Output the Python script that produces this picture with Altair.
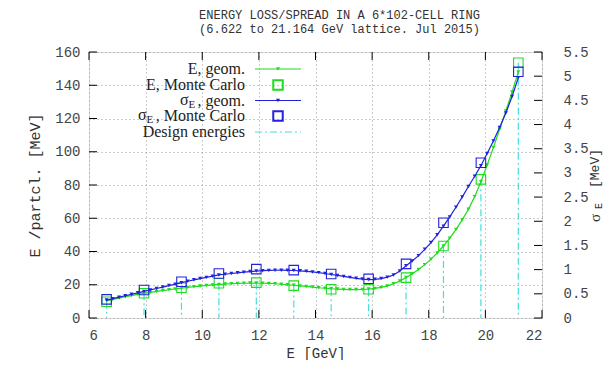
import altair as alt
import pandas as pd

# ---------------- data ----------------
design_E = [6.622, 7.944, 9.266, 10.588, 11.910, 13.232, 14.554, 15.876,
            17.198, 18.520, 19.842, 21.164]
mc_E = [9.8, 14.9, 18.2, 20.9, 21.3, 19.5, 17.3, 17.3, 24.3, 43.3, 83.4, 153.5]
mc_sigma = [0.385, 0.58, 0.75, 0.92, 1.01, 0.99, 0.91, 0.81, 1.12, 1.97, 3.21, 5.09]

geom_x = [6.622, 6.842, 7.063, 7.283, 7.503, 7.724, 7.944, 8.164, 8.385, 8.605,
          8.825, 9.046, 9.266, 9.486, 9.707, 9.927, 10.147, 10.368, 10.588, 10.808,
          11.029, 11.249, 11.469, 11.690, 11.910, 12.130, 12.351, 12.571, 12.791, 13.012,
          13.232, 13.452, 13.673, 13.893, 14.113, 14.334, 14.554, 14.774, 14.995, 15.215,
          15.435, 15.656, 15.876, 16.096, 16.317, 16.537, 16.757, 16.978, 17.198, 17.418,
          17.639, 17.859, 18.079, 18.300, 18.520, 18.740, 18.961, 19.181, 19.401, 19.622,
          19.842, 20.062, 20.283, 20.503, 20.723, 20.944, 21.164]
geom_E = [10.3, 11.2, 12.0, 12.8, 13.5, 14.2, 14.8, 15.4, 16.0, 16.5,
          17.0, 17.5, 18.0, 18.4, 18.8, 19.2, 19.6, 19.9, 20.2, 20.4,
          20.6, 20.8, 20.9, 21.0, 21.0, 20.9, 20.8, 20.6, 20.3, 20.0,
          19.7, 19.3, 19.0, 18.6, 18.2, 17.9, 17.6, 17.4, 17.2, 17.1,
          17.1, 17.2, 17.4, 17.8, 18.4, 19.3, 20.6, 22.2, 24.3, 26.6,
          29.2, 32.1, 35.4, 39.1, 43.3, 48.0, 53.2, 59.0, 65.4, 73.0,
          82.0, 92.0, 102.5, 113.5, 124.5, 136.0, 148.0]
geom_sigma = [0.37, 0.40, 0.43, 0.46, 0.49, 0.52, 0.55, 0.58, 0.61, 0.64,
              0.67, 0.70, 0.73, 0.76, 0.79, 0.815, 0.84, 0.865, 0.89, 0.905,
              0.92, 0.935, 0.948, 0.96, 0.97, 0.978, 0.984, 0.987, 0.988, 0.986,
              0.982, 0.975, 0.965, 0.953, 0.938, 0.92, 0.90, 0.88, 0.86, 0.84,
              0.82, 0.805, 0.795, 0.80, 0.815, 0.845, 0.89, 0.97, 1.08, 1.18,
              1.29, 1.42, 1.56, 1.72, 1.90, 2.09, 2.29, 2.50, 2.72, 2.93,
              3.15, 3.40, 3.66, 3.94, 4.24, 4.58, 4.97]

x_ticks = [6, 8, 10, 12, 14, 16, 18, 20, 22]
y_ticks = [0, 20, 40, 60, 80, 100, 120, 140, 160]
y2_ticks = [0, 0.5, 1, 1.5, 2, 2.5, 3, 3.5, 4, 4.5, 5, 5.5]

title_lines = ["ENERGY LOSS/SPREAD IN A 6*102-CELL RING",
               "(6.622 to 21.164 GeV lattice. Jul 2015)"]

# ---------------- styling ----------------
W, H = 453, 266
MONO = "Liberation Mono"
SERIF = "Liberation Serif"
GREEN = "#1edc1e"
BLUE = "#2222dd"
CYAN = "#44dede"
TICK = 8

geom_df = pd.DataFrame({"x": geom_x, "E": geom_E, "s": geom_sigma})
mc_df = pd.DataFrame({"x": design_E, "E": mc_E, "s": mc_sigma})
xt_df = pd.DataFrame({"x": x_ticks})
yt_df = pd.DataFrame({"E": y_ticks})
y2t_df = pd.DataFrame({"s": y2_ticks})
one = pd.DataFrame({"a": [0]})

xscale = alt.Scale(domain=[6, 22], nice=False, zero=False)
yscale = alt.Scale(domain=[0, 160], nice=False)
y2scale = alt.Scale(domain=[0, 5.5], nice=False)

xaxis = alt.Axis(values=x_ticks, grid=True, gridDash=[1, 3], gridColor="#999",
                 ticks=False, tickSize=0, domain=False, labelFont=MONO, labelFontSize=14,
                 labelColor="#444", labelPadding=10, title="E  [GeV]", titleFont=MONO,
                 titleFontSize=14, titleFontWeight="normal", titleColor="#333",
                 titlePadding=4)
yaxis = alt.Axis(values=y_ticks, grid=True, gridDash=[1, 3], gridColor="#999",
                 ticks=False, tickSize=0, domain=False, labelFont=MONO, labelFontSize=14,
                 labelColor="#444", labelPadding=9, title="E /partcl. [MeV]",
                 titleFont=MONO, titleFontSize=15, titleFontWeight="normal",
                 titleColor="#333", titlePadding=12)
y2axis = alt.Axis(values=y2_ticks, orient="right", grid=False, ticks=False, tickSize=0,
                  domain=False, labelFont=MONO, labelFontSize=14, labelColor="#444",
                  labelPadding=21, format=".1~f", title=None)

X = alt.X("x:Q", scale=xscale, axis=xaxis)
Y = alt.Y("E:Q", scale=yscale, axis=yaxis)
Y2 = alt.Y("s:Q", scale=y2scale, axis=y2axis)

# design energies impulses
design = alt.Chart(mc_df).mark_rule(color=CYAN, strokeWidth=1.2,
                                    strokeDash=[7, 3, 2, 3]).encode(
    x=X, y=Y, y2=alt.value(H))

e_line = alt.Chart(geom_df).mark_line(color=GREEN, strokeWidth=1.2).encode(x=X, y=Y)
e_pts = alt.Chart(geom_df).mark_point(shape="triangle-down", filled=True, size=16,
                                      color=GREEN, opacity=1).encode(x=X, y=Y)
e_mc = alt.Chart(mc_df).mark_point(shape="square", filled=False, size=90,
                                   color=GREEN, strokeWidth=1.1, opacity=1).encode(x=X, y=Y)

# inward ticks (gnuplot style)
bot_ticks = alt.Chart(xt_df).mark_rule(color="black").encode(
    x=X, y=alt.value(H), y2=alt.value(H - TICK))
top_ticks = alt.Chart(xt_df).mark_rule(color="black").encode(
    x=X, y=alt.value(0), y2=alt.value(TICK))
left_ticks = alt.Chart(yt_df).mark_rule(color="black").encode(
    y=Y, x=alt.value(0), x2=alt.value(TICK))


def txt(s, x, y, size=16, align="right", font=SERIF, angle=0, color="#222"):
    return alt.Chart(one).mark_text(align=align, baseline="middle", font=font,
                                    fontSize=size, angle=angle, color=color).encode(
        x=alt.value(x), y=alt.value(y), text=alt.value(s))


# legend (manual, for subscript)
LX0, LX1, LXM, TXR = 166, 212, 189, 156
rows = [17, 33, 48.5, 64, 80]
legend = [
    txt("E, geom.", TXR, rows[0]),
    alt.Chart(one).mark_rule(color=GREEN, strokeWidth=1.2).encode(
        x=alt.value(LX0), x2=alt.value(LX1), y=alt.value(rows[0])),
    alt.Chart(one).mark_point(shape="triangle-down", filled=True, size=16, color=GREEN,
                              opacity=1).encode(x=alt.value(LXM), y=alt.value(rows[0])),
    txt("E, Monte Carlo", TXR, rows[1]),
    alt.Chart(one).mark_point(shape="square", filled=False, size=90, color=GREEN,
                              opacity=1).encode(x=alt.value(LXM), y=alt.value(rows[1])),
    txt("σ", 91, rows[2] - 1, align="left"),
    txt("E", 99.5, rows[2] + 4, size=11, align="left"),
    txt(", geom.", TXR, rows[2]),
    alt.Chart(one).mark_rule(color=BLUE, strokeWidth=1.2).encode(
        x=alt.value(LX0), x2=alt.value(LX1), y=alt.value(rows[2])),
    alt.Chart(one).mark_point(shape="triangle-down", filled=True, size=16, color=BLUE,
                              opacity=1).encode(x=alt.value(LXM), y=alt.value(rows[2])),
    txt("σ", 49, rows[3] - 1, align="left"),
    txt("E", 57.5, rows[3] + 4, size=11, align="left"),
    txt(", Monte Carlo", TXR, rows[3]),
    alt.Chart(one).mark_point(shape="square", filled=False, size=90, color=BLUE,
                              opacity=1).encode(x=alt.value(LXM), y=alt.value(rows[3])),
    txt("Design energies", TXR, rows[4]),
    alt.Chart(one).mark_rule(color=CYAN, strokeWidth=1.2, strokeDash=[7, 3, 2, 3]).encode(
        x=alt.value(LX0), x2=alt.value(LX1), y=alt.value(rows[4])),
]

# right axis title (manual, for subscript)
RX = 506
rtitle = [
    txt("σ", RX, 170, size=15, align="left", angle=270, color="#333"),
    txt("E", RX + 4, 157, size=10, align="left", angle=270, font=MONO, color="#333"),
    txt("[MeV]", RX, 136, size=13, align="left", angle=270, font=MONO, color="#333"),
]

left = alt.layer(design, e_line, e_pts, bot_ticks, top_ticks, left_ticks, e_mc,
                 *legend, *rtitle)

s_line = alt.Chart(geom_df).mark_line(color=BLUE, strokeWidth=1.2).encode(x=X, y=Y2)
s_pts = alt.Chart(geom_df).mark_point(shape="triangle-down", filled=True, size=16,
                                      color=BLUE, opacity=1).encode(x=X, y=Y2)
s_mc = alt.Chart(mc_df).mark_point(shape="square", filled=False, size=90,
                                   color=BLUE, strokeWidth=1.1, opacity=1).encode(x=X, y=Y2)
right_ticks = alt.Chart(y2t_df).mark_rule(color="black").encode(
    y=Y2, x=alt.value(W), x2=alt.value(W - TICK))
right = alt.layer(s_line, s_pts, s_mc, right_ticks)

chart = alt.layer(left, right).resolve_scale(y="independent").properties(
    width=W, height=H,
    autosize=alt.AutoSizeParams(type="none"),
    padding={"left": 81, "top": 44, "right": 64, "bottom": 42},
    title=alt.TitleParams(text=title_lines, font=MONO, fontSize=12, fontWeight="normal",
                          color="#333", anchor="middle", dx=24, offset=9, lineHeight=14),
).configure_view(stroke="black", strokeWidth=1.2).configure(background="white")

chart.save("out.html", embed_options={"renderer": "svg", "actions": False})
